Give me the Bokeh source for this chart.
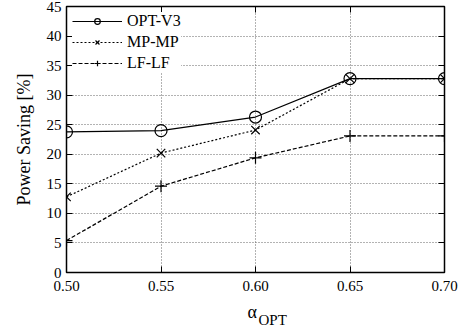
from bokeh.plotting import figure
from bokeh.models import (FixedTicker, Range1d, Legend, LegendItem, Title, LinearAxis,
                          CustomJSTickFormatter)
from bokeh.embed import file_html
from bokeh.resources import INLINE

alpha = [0.50, 0.55, 0.60, 0.65, 0.70]
opt_v3 = [23.8, 24.0, 26.3, 32.8, 32.8]
mp_mp = [12.8, 20.2, 24.1, 32.8, 32.8]
lf_lf = [5.4, 14.6, 19.4, 23.1, 23.1]
x_ticks = [0.50, 0.55, 0.60, 0.65, 0.70]
y_ticks = [0, 5, 10, 15, 20, 25, 30, 35, 40, 45]

FONT = "Liberation Serif"

p = figure(width=458, height=334, output_backend="svg", toolbar_location=None,
           x_range=Range1d(0.50, 0.70), y_range=Range1d(0, 45),
           min_border_left=66, min_border_right=14, min_border_top=6, min_border_bottom=62)

p.outline_line_color = "black"
p.outline_line_width = 1.5
p.background_fill_color = "white"
p.border_fill_color = "white"

for ax in (p.xaxis[0], p.yaxis[0]):
    ax.major_label_text_font = FONT
    ax.major_label_text_font_size = "15px"
    ax.major_label_text_color = "black"
    ax.axis_line_color = "black"
    ax.major_tick_in = 6
    ax.major_tick_out = 0
    ax.minor_tick_in = 0
    ax.minor_tick_out = 0
    ax.major_tick_line_color = "black"

p.xaxis[0].ticker = FixedTicker(ticks=x_ticks)
p.xaxis[0].major_label_overrides = {t: f"{t:.2f}" for t in x_ticks}
p.xaxis[0].major_label_standoff = 8
p.yaxis[0].ticker = FixedTicker(ticks=y_ticks)
p.yaxis[0].major_label_standoff = 5
p.yaxis[0].axis_label = "Power Saving [%]"
p.yaxis[0].axis_label_text_font = FONT
p.yaxis[0].axis_label_text_font_size = "18px"
p.yaxis[0].axis_label_text_font_style = "normal"
p.yaxis[0].axis_label_text_color = "black"
p.yaxis[0].axis_label_standoff = 10

blank = CustomJSTickFormatter(code="return ''")
top = LinearAxis(ticker=FixedTicker(ticks=x_ticks), formatter=blank,
                 major_tick_in=6, major_tick_out=0, minor_tick_in=0, minor_tick_out=0,
                 major_label_standoff=0,
                 axis_line_color="black", major_tick_line_color="black")
right = LinearAxis(ticker=FixedTicker(ticks=y_ticks), formatter=blank,
                   major_tick_in=6, major_tick_out=0, minor_tick_in=0, minor_tick_out=0,
                   major_label_standoff=0,
                   axis_line_color="black", major_tick_line_color="black")
p.add_layout(top, "above")
p.add_layout(right, "right")

for g in (p.xgrid[0], p.ygrid[0]):
    g.grid_line_color = "#666666"
    g.grid_line_dash = "1 2"
    g.grid_line_width = 1
p.xgrid[0].ticker = FixedTicker(ticks=x_ticks)
p.ygrid[0].ticker = FixedTicker(ticks=y_ticks)

r1l = p.line(alpha, opt_v3, line_color="black", line_width=1.2)
r1m = p.scatter(alpha, opt_v3, marker="circle", size=12, fill_color="white", fill_alpha=0,
                line_color="black", line_width=1.2)
r2l = p.line(alpha, mp_mp, line_color="black", line_width=1.2, line_dash="2 2")
r2m = p.scatter(alpha, mp_mp, marker="x", size=12, line_color="black", line_width=1.2)
r3l = p.line(alpha, lf_lf, line_color="black", line_width=1.2, line_dash="4 2")
r3m = p.scatter(alpha, lf_lf, marker="cross", size=12, line_color="black", line_width=1.2)

legend = Legend(items=[
    LegendItem(label="OPT-V3", renderers=[r1l, r1m]),
    LegendItem(label="MP-MP", renderers=[r2l, r2m]),
    LegendItem(label="LF-LF", renderers=[r3l, r3m]),
], location="top_left")
legend.label_text_font = FONT
legend.label_text_font_size = "16px"
legend.label_text_color = "black"
legend.border_line_color = None
legend.background_fill_color = "white"
legend.background_fill_alpha = 1
legend.glyph_width = 50
legend.glyph_height = 14
legend.label_height = 14
legend.spacing = 3
legend.margin = 6
legend.padding = 4
p.add_layout(legend)

t_alpha = Title(text="α", align="left", offset=181, standoff=12, vertical_align="bottom",
                text_font=FONT, text_font_size="18px", text_font_style="normal",
                text_color="black")
t_sub = Title(text="OPT", align="left", offset=192, standoff=-32, vertical_align="top",
              text_font=FONT, text_font_size="15px", text_font_style="normal",
              text_color="black")
p.add_layout(t_alpha, "below")
p.add_layout(t_sub, "below")

open("out.html", "w").write(file_html(p, INLINE))
